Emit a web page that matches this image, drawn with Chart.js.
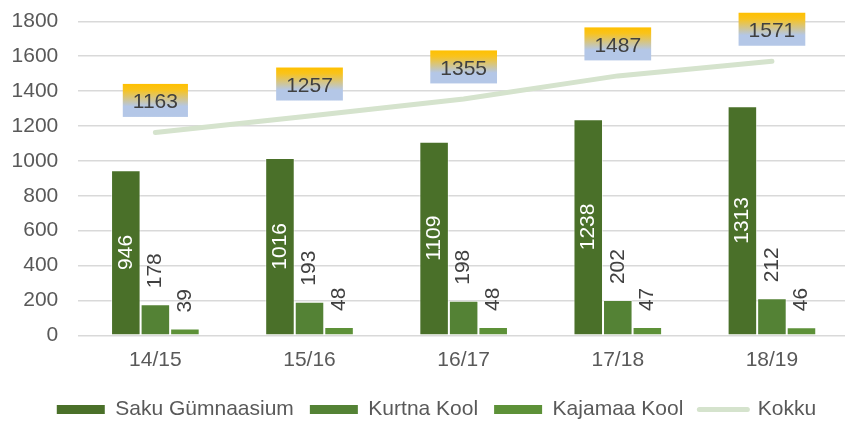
<!DOCTYPE html>
<html>
<head>
<meta charset="utf-8">
<script src="https://cdn.jsdelivr.net/npm/chart.js@4"></script>
<style>
  html, body { margin: 0; padding: 0; background: #fff; overflow: hidden; }
  #wrap { width: 845px; height: 421px; overflow: hidden; }
</style>
</head>
<body>
<div id="wrap"><canvas id="chart" width="850" height="430"></canvas></div>
<script>
// andmed
const categories = ['14/15', '15/16', '16/17', '17/18', '18/19'];
const sakuValues = [946, 1016, 1109, 1238, 1313];
const kurtnaValues = [178, 193, 198, 202, 212];
const kajamaaValues = [39, 48, 48, 47, 46];
const kokkuValues = [1163, 1257, 1355, 1487, 1571];

const FONT = '"Liberation Sans", Arial, sans-serif';
Chart.defaults.font.family = FONT;
Chart.defaults.font.size = 21;
Chart.defaults.color = '#595959';

// väärtuste sildid
const valueLabels = {
    id: 'valueLabels',
    afterLayout(chart) {
        // legend veidi paremale nagu originaalis
        chart.legend.left += 12;
        chart.legend.right += 12;
    },
    afterDatasetsDraw(chart) {
        const ctx = chart.ctx;
        chart.data.datasets.forEach((ds, i) => {
            const meta = chart.getDatasetMeta(i);
            meta.data.forEach((el, j) => {
                const text = String(ds.data[j]);
                ctx.save();
                ctx.font = '21px ' + FONT;
                if (ds.type === 'line') {
                    const w = ctx.measureText(text).width + 20;
                    const h = 33;
                    const cy = el.y - 32;
                    const top = cy - h / 2;
                    const g = ctx.createLinearGradient(0, top, 0, top + h);
                    g.addColorStop(0, '#ffc000');
                    g.addColorStop(0.18, '#f9c31c');
                    g.addColorStop(0.68, '#b4c7e7');
                    g.addColorStop(1, '#b4c7e7');
                    ctx.fillStyle = g;
                    ctx.fillRect(el.x - w / 2, top, w, h);
                    ctx.fillStyle = '#404040';
                    ctx.textAlign = 'center';
                    ctx.textBaseline = 'middle';
                    ctx.fillText(text, el.x, cy + 2);
                } else if (i === 0) {
                    ctx.translate(el.x, (el.y + el.base) / 2);
                    ctx.rotate(-Math.PI / 2);
                    ctx.fillStyle = '#ffffff';
                    ctx.textAlign = 'center';
                    ctx.textBaseline = 'middle';
                    ctx.fillText(text, 0, 0);
                } else {
                    ctx.translate(el.x, el.y - 16);
                    ctx.rotate(-Math.PI / 2);
                    ctx.fillStyle = '#404040';
                    ctx.textAlign = 'left';
                    ctx.textBaseline = 'middle';
                    ctx.fillText(text, 0, 0);
                }
                ctx.restore();
            });
        });
    }
};

const barBorder = 'rgba(255,255,255,0.55)';

new Chart(document.getElementById('chart'), {
    type: 'bar',
    data: {
        labels: categories,
        datasets: [
            { label: 'Saku Gümnaasium', data: sakuValues, backgroundColor: '#4a7029', borderColor: barBorder, borderWidth: 1, order: 2 },
            { label: 'Kurtna Kool', data: kurtnaValues, backgroundColor: '#548235', borderColor: barBorder, borderWidth: 1, order: 2 },
            { label: 'Kajamaa Kool', data: kajamaaValues, backgroundColor: '#5d9138', borderColor: barBorder, borderWidth: 1, order: 2 },
            {
                type: 'line', label: 'Kokku', data: kokkuValues,
                borderColor: '#d5e3cd', backgroundColor: '#d5e3cd',
                borderWidth: 5, borderCapStyle: 'round', pointRadius: 0, pointHoverRadius: 0,
                tension: 0, fill: false, order: 1
            }
        ]
    },
    options: {
        responsive: false,
        animation: false,
        layout: { padding: { left: 0, right: 1, top: 21.3, bottom: 0 } },
        datasets: { bar: { categoryPercentage: 0.575, barPercentage: 1 } },
        scales: {
            x: {
                grid: { display: false, drawTicks: false },
                border: { display: false },
                ticks: { padding: 12, color: '#595959' },
                afterFit: s => { s.height = 47.7; }
            },
            y: {
                min: 0, max: 1800,
                ticks: { stepSize: 200, padding: 20, color: '#595959', callback: v => String(v) },
                grid: { color: '#d9d9d9', lineWidth: 1.5, drawTicks: false },
                border: { display: false },
                afterFit: s => { s.width = 78.3; s.paddingTop = 0; s.paddingBottom = 0; }
            }
        },
        plugins: {
            tooltip: { enabled: false },
            legend: {
                position: 'bottom',
                labels: {
                    usePointStyle: true,
                    pointStyleWidth: 48,
                    boxHeight: 9,
                    padding: 16,
                    color: '#595959',
                    font: { size: 21 },
                    sort: (a, b) => a.datasetIndex - b.datasetIndex,
                    generateLabels(chart) {
                        const items = Chart.defaults.plugins.legend.labels.generateLabels(chart);
                        items.forEach(it => {
                            const ds = chart.data.datasets[it.datasetIndex];
                            if (ds.type === 'line') {
                                it.pointStyle = 'line';
                                it.lineWidth = 5;
                                it.strokeStyle = ds.borderColor;
                                it.lineCap = 'round';
                            } else {
                                it.pointStyle = 'rect';
                                it.lineWidth = 0;
                                it.fillStyle = ds.backgroundColor;
                            }
                        });
                        return items;
                    }
                }
            }
        }
    },
    plugins: [valueLabels]
});
</script>
</body>
</html>
